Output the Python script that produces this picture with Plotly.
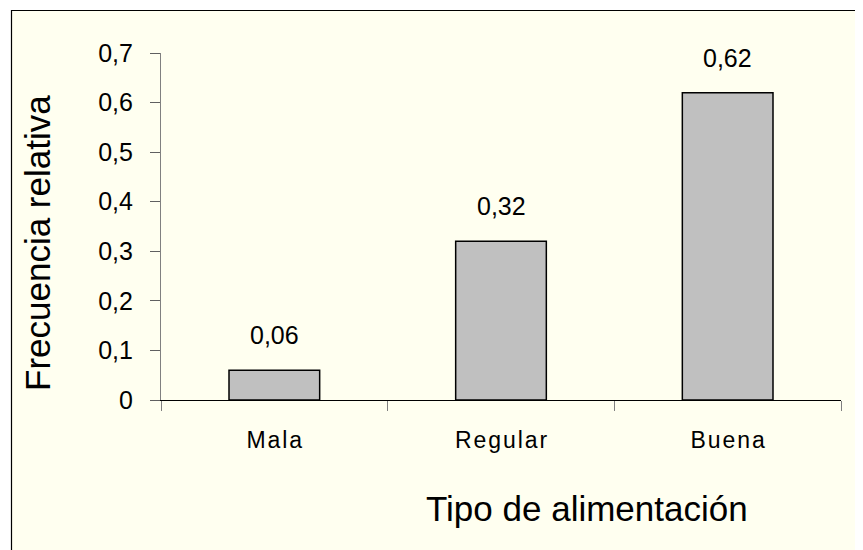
import plotly.graph_objects as go

categorias = ["Mala", "Regular", "Buena"]
frecuencia = [0.06, 0.32, 0.62]
y_ticks = [0, 0.1, 0.2, 0.3, 0.4, 0.5, 0.6, 0.7]

# la pagina deja 8 px de margen, se trabaja en pixeles de la captura
OFF = 8
W, H = 863 - OFF, 550 - OFF
L, R, T, B = 161 - OFF, 22, 53 - OFF, 150
pw, ph = W - L - R, H - T - B


def px(x):
    return (x - OFF - L) / pw


def py(y):
    return (H - B - (y - OFF)) / ph


font = "Liberation Sans, Arial, sans-serif"

fig = go.Figure()
fig.add_trace(
    go.Bar(
        x=categorias,
        y=frecuencia,
        width=0.4,
        marker=dict(color="#C0C0C0", line=dict(color="black", width=1.5)),
        hoverinfo="skip",
    )
)

# etiquetas de valor sobre cada barra
for c, v in zip(categorias, frecuencia):
    fig.add_annotation(
        x=c, y=v, text=f"{v:.2f}".replace(".", ","),
        showarrow=False, yanchor="middle", yshift=35,
        font=dict(family=font, size=25, color="black"),
    )

# fondo del area del grafico con borde
fig.add_shape(
    type="rect", xref="paper", yref="paper",
    x0=px(11.5), x1=px(900), y0=py(600), y1=py(10.5),
    fillcolor="#FFFFF0", line=dict(color="black", width=1.2), layer="below",
)

fig.add_annotation(
    xref="paper", yref="paper", x=px(37), y=py(243),
    xanchor="center", yanchor="middle",
    text="Frecuencia relativa", textangle=-90, showarrow=False,
    font=dict(family=font, size=35, color="black"),
)
fig.add_annotation(
    xref="paper", yref="paper", x=px(587), y=py(508),
    xanchor="center", yanchor="middle",
    text="Tipo de alimentación", showarrow=False,
    font=dict(family=font, size=35, color="black"),
)

fig.update_layout(
    width=W, height=H,
    margin=dict(l=L, r=R, t=T, b=B),
    paper_bgcolor="white",
    plot_bgcolor="rgba(0,0,0,0)",
    separators=",.",
    showlegend=False,
    xaxis=dict(
        tickmode="array", tickvals=categorias,
        ticktext=["\u200a".join(c) for c in categorias],
        tickson="boundaries", ticks="outside", ticklen=10, tickcolor="#808080",
        showline=True, linecolor="black", linewidth=1.2,
        showgrid=False, zeroline=False, ticklabelstandoff=19,
        tickfont=dict(family=font, size=23, color="black"),
    ),
    yaxis=dict(
        range=[0, 0.7], tickmode="array", tickvals=y_ticks,
        ticks="outside", ticklen=10, tickcolor="#606060",
        showline=True, linecolor="#808080", linewidth=1.2,
        showgrid=False, zeroline=False, ticklabelstandoff=12,
        tickfont=dict(family=font, size=25, color="black"),
    ),
)

fig.write_html("out.html")
